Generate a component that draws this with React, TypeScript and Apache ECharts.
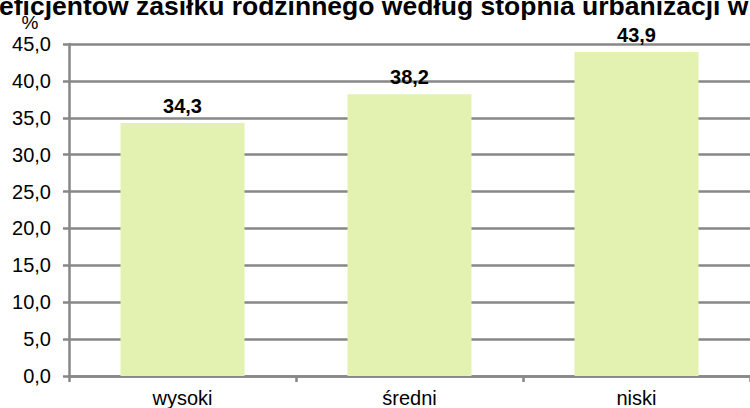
import React, { useEffect, useRef } from "react";
import * as echarts from "echarts";

const categories = ["wysoki", "średni", "niski"];
const values = [34.3, 38.2, 43.9];
const titleText = "eficjentów zasiłku rodzinnego według stopnia urbanizacji w";
const yUnit = "%";

export default function App() {
  const ref = useRef<HTMLDivElement>(null);
  useEffect(() => {
    if (!ref.current) return;
    const chart = echarts.init(ref.current, undefined, { renderer: "svg" });
    const font = "Liberation Sans, Arial, sans-serif";
    chart.setOption({
      animation: false,
      textStyle: { fontFamily: font },
      graphic: [
        {
          type: "text",
          x: -1,
          y: 6,
          style: {
            text: titleText,
            font: `bold 26.5px ${font}`,
            fill: "#000",
            verticalAlign: "middle",
            align: "left",
          },
        },
        {
          type: "text",
          x: 30,
          y: 22,
          style: {
            text: yUnit,
            font: `19px ${font}`,
            fill: "#000",
            align: "center",
            verticalAlign: "middle",
          },
        },
      ],
      grid: { left: 69, right: -8, top: 44, bottom: 32, containLabel: false },
      xAxis: {
        type: "category",
        data: categories,
        axisLine: { lineStyle: { color: "#878787", width: 2.5 } },
        axisTick: { show: true, length: 6, lineStyle: { color: "#878787", width: 2.5 } },
        axisLabel: { color: "#000", fontSize: 20, fontFamily: font, margin: 12 },
        splitLine: { show: false },
      },
      yAxis: {
        type: "value",
        min: 0,
        max: 45,
        interval: 5,
        axisLine: { show: true, lineStyle: { color: "#878787", width: 2.5 } },
        axisTick: { show: true, length: 6, lineStyle: { color: "#878787", width: 2.5 } },
        axisLabel: {
          color: "#000",
          fontSize: 20,
          fontFamily: font,
          margin: 18,
          formatter: (v: number) => v.toFixed(1).replace(".", ","),
        },
        splitLine: { show: true, lineStyle: { color: "#878787", width: 2.5 } },
      },
      series: [
        {
          type: "bar",
          data: values,
          barWidth: 124,
          itemStyle: { color: "#e3f2b0" },
          label: {
            show: true,
            position: "top",
            distance: 7,
            color: "#000",
            fontSize: 20,
            fontWeight: "bold",
            fontFamily: font,
            formatter: (p: any) => Number(p.value).toFixed(1).replace(".", ","),
          },
        },
      ],
    });
    return () => chart.dispose();
  }, []);
  return <div ref={ref} style={{ width: 750, height: 408, position: "absolute", left: 0, top: 0 }} />;
}
